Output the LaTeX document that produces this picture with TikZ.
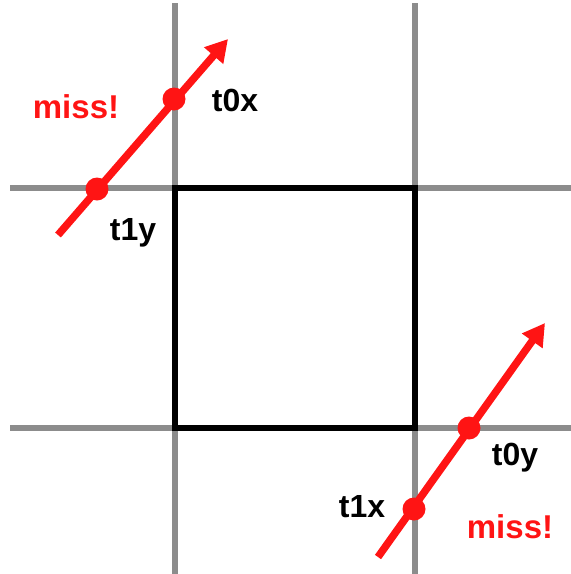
\documentclass[tikz,border=0pt]{standalone}
\usepackage{fontspec}
\setmainfont{Liberation Sans}
\usetikzlibrary{arrows.meta}
\definecolor{gridgray}{RGB}{140,140,140}
\definecolor{hitred}{RGB}{255,20,20}
\tikzset{
  gridline/.style={draw=gridgray, line width=5.5pt},
  boxline/.style={draw=black, line width=5.5pt},
  ray/.style={draw=hitred, line width=7.5pt, -{Triangle[length=22pt,width=24pt]}},
  hitdot/.style={circle, fill=hitred, inner sep=0pt, minimum size=23pt},
  lbl/.style={font=\fontsize{32}{36}\selectfont\bfseries, text=black},
  misslbl/.style={font=\fontsize{33}{36}\selectfont\bfseries, text=hitred},
}
\begin{document}
\begin{tikzpicture}[x=1pt,y=-1pt]
\useasboundingbox (0,0) rectangle (571,574);
% grid
\coordinate (v1t) at (175,3); \coordinate (v1b) at (175,574);
\coordinate (v2t) at (415,3); \coordinate (v2b) at (415,574);
\coordinate (h1l) at (10,188); \coordinate (h1r) at (571,188);
\coordinate (h2l) at (10,428); \coordinate (h2r) at (571,428);
\draw[gridline] (v1t) -- (v1b);
\draw[gridline] (v2t) -- (v2b);
\draw[gridline] (h1l) -- (h1r);
\draw[gridline] (h2l) -- (h2r);
% box
\coordinate (bA) at (175,188); \coordinate (bB) at (415,428);
\draw[boxline] (bA) rectangle (bB);
% ray 1
\coordinate (r1s) at (58,235); \coordinate (r1e) at (228,39);
\draw[ray] (r1s) -- (r1e);
\node[hitdot] (t1y) at (97,189) {};
\node[hitdot] (t0x) at (174,99) {};
% ray 2
\coordinate (r2s) at (378,557); \coordinate (r2e) at (545,323);
\draw[ray] (r2s) -- (r2e);
\node[hitdot] (t0y) at (469,428) {};
\node[hitdot] (t1x) at (414,509) {};
% labels
\node[lbl] (lt0x) at (235,100) {t0x};
\node[lbl] (lt1y) at (133,233) {t1y};
\node[lbl] (lt0y) at (515,458) {t0y};
\node[lbl] (lt1x) at (362,507) {t1x};
\node[misslbl] (m1) at (76,107) {miss!};
\node[misslbl] (m2) at (510,527) {miss!};
\end{tikzpicture}
\end{document}
